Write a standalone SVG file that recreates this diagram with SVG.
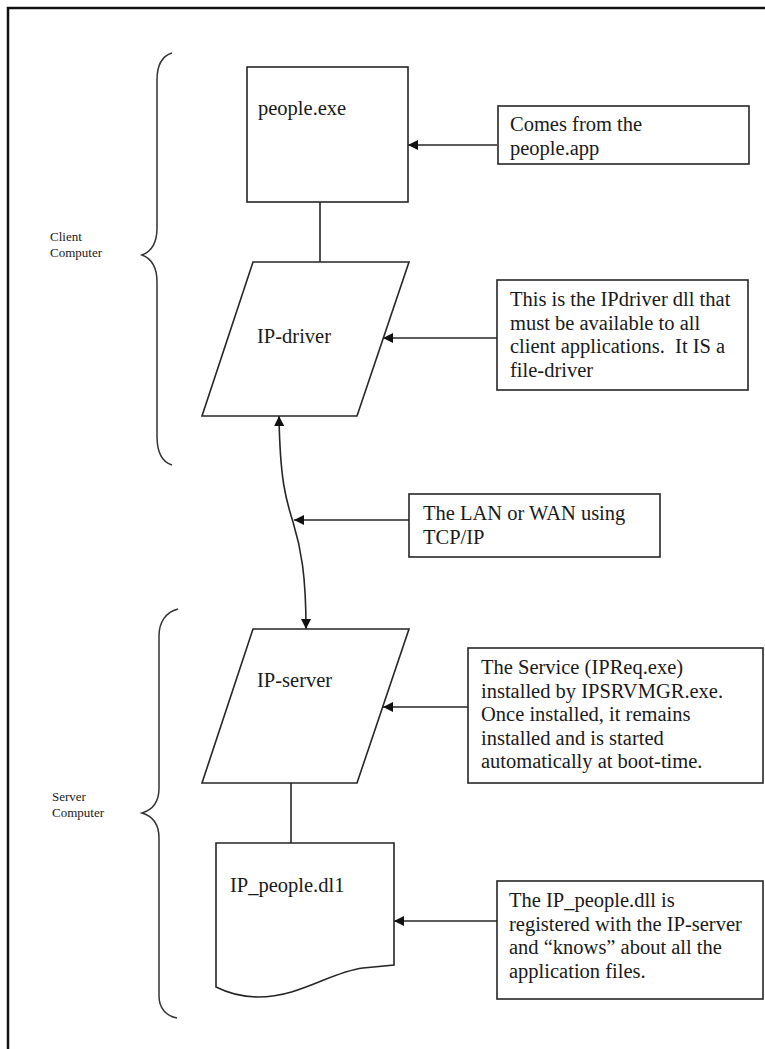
<svg xmlns="http://www.w3.org/2000/svg" width="765" height="1049" viewBox="0 0 765 1049">
<style>
  .shape { fill: #fff; stroke: #262626; stroke-width: 1.6; }
  .line { fill: none; stroke: #262626; stroke-width: 1.6; }
  .brace { fill: none; stroke: #333; stroke-width: 1.5; }
  .t { font-family: "Liberation Serif", "Times New Roman", serif; font-size: 20.5px; fill: #1a1a1a; }
  .s { font-family: "Liberation Serif", "Times New Roman", serif; font-size: 13px; fill: #1a1a1a; }
</style>
<defs>
  <marker id="ah" viewBox="0 0 10 10" refX="10" refY="5" markerWidth="10" markerHeight="10" markerUnits="userSpaceOnUse" orient="auto-start-reverse">
    <path d="M0,0 L10,5 L0,10 Z" fill="#111"/>
  </marker>
</defs>
<rect width="765" height="1049" fill="#fff"/>
<path d="M8,1049 V8 H765" fill="none" stroke="#111" stroke-width="2.5"/>

<g id="client-brace">
  <path class="brace" d="M172,53 C162,56 157,66 157,80 L157,228 C157,245 150,252 142,255 C150,258 157,265 157,282 L157,436 C157,452 162,462 172,465"/>
  <text class="s" x="50" y="241">Client</text>
  <text class="s" x="50" y="257">Computer</text>
</g>
<g id="server-brace">
  <path class="brace" d="M178,609 C166,612 159,622 159,636 L159,788 C159,803 152,810 142,813 C152,816 159,823 159,838 L159,996 C159,1008 166,1016 177,1018"/>
  <text class="s" x="52" y="801">Server</text>
  <text class="s" x="52" y="817">Computer</text>
</g>

<g id="connectors">
  <line class="line" x1="320" y1="202" x2="320" y2="262"/>
  <line class="line" x1="291" y1="783" x2="291" y2="843"/>
  <path class="line" d="M279,416 C280,480 286,500 293,522 C301,548 306,575 306,629" marker-start="url(#ah)" marker-end="url(#ah)"/>
  <line class="line" x1="497" y1="145" x2="408" y2="145" marker-end="url(#ah)"/>
  <line class="line" x1="497" y1="338" x2="383" y2="338" marker-end="url(#ah)"/>
  <line class="line" x1="409" y1="520" x2="294" y2="520" marker-end="url(#ah)"/>
  <line class="line" x1="468" y1="707" x2="383" y2="707" marker-end="url(#ah)"/>
  <line class="line" x1="497" y1="921" x2="394" y2="921" marker-end="url(#ah)"/>
</g>

<g id="people-exe">
  <rect class="shape" x="247" y="67" width="161" height="135"/>
  <text class="t" x="258" y="115">people.exe</text>
</g>
<g id="ip-driver">
  <polygon class="shape" points="253,262 409,262 357,416 202,416"/>
  <text class="t" x="257" y="343">IP-driver</text>
</g>
<g id="ip-server">
  <polygon class="shape" points="253,629 409,629 357,783 202,783"/>
  <text class="t" x="257" y="687">IP-server</text>
</g>
<g id="ip-people-dll">
  <path class="shape" d="M216,843 H394 V965 L363,968 C330,972 300,997 258,997 C238,997 226,992 216,987 Z"/>
  <text class="t" x="230" y="892">IP_people.dl1</text>
</g>

<g id="note-comes">
  <rect class="shape" x="498" y="106" width="251" height="58"/>
  <text class="t" x="510" y="131">Comes from the</text>
  <text class="t" x="510" y="154.5">people.app</text>
</g>
<g id="note-ipdriver">
  <rect class="shape" x="497" y="280" width="251" height="110"/>
  <text class="t" x="510" y="306">This is the IPdriver dll that</text>
  <text class="t" x="510" y="329.5">must be available to all</text>
  <text class="t" x="510" y="353" xml:space="preserve">client applications.  It IS a</text>
  <text class="t" x="510" y="376.5">file-driver</text>
</g>
<g id="note-lan">
  <rect class="shape" x="409" y="494" width="251" height="63"/>
  <text class="t" x="423" y="520">The LAN or WAN using</text>
  <text class="t" x="423" y="543.5">TCP/IP</text>
</g>
<g id="note-service">
  <rect class="shape" x="468" y="648" width="295" height="135"/>
  <text class="t" x="481" y="674">The Service (IPReq.exe)</text>
  <text class="t" x="481" y="697.5">installed by IPSRVMGR.exe.</text>
  <text class="t" x="481" y="721">Once installed, it remains</text>
  <text class="t" x="481" y="744.5">installed and is started</text>
  <text class="t" x="481" y="768">automatically at boot-time.</text>
</g>
<g id="note-ippeople">
  <rect class="shape" x="497" y="881" width="266" height="118"/>
  <text class="t" x="509" y="907">The IP_people.dll is</text>
  <text class="t" x="509" y="930.5">registered with the IP-server</text>
  <text class="t" x="509" y="954">and “knows” about all the</text>
  <text class="t" x="509" y="977.5">application files.</text>
</g>
</svg>
